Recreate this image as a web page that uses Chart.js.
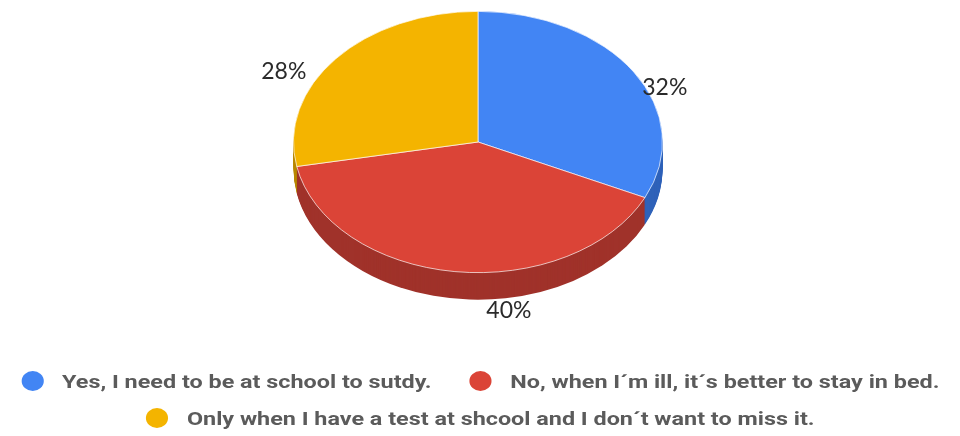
<!DOCTYPE html>
<html>
<head>
<meta charset="utf-8">
<script src="https://cdn.jsdelivr.net/npm/chart.js@4"></script>
<style>
  html, body { margin: 0; padding: 0; background: #fff; }
  #wrap { position: relative; width: 960px; height: 436px; }
  #pie { position: absolute; left: 0; top: 0; }
  #legend {
    position: absolute; left: 0; top: 370px; width: 960px;
    display: flex; flex-wrap: wrap; justify-content: center;
    row-gap: 15px; column-gap: 31px;
    font-family: Roboto, sans-serif; font-weight: 700; font-size: 19px; color: #5b5b5b;
    transform: scaleX(1.23); transform-origin: 478px 0;
  }
  .item { display: flex; align-items: center; height: 22px; white-space: nowrap; }
  .dot { width: 18px; height: 20px; border-radius: 50%; margin-right: 15px; }
</style>
</head>
<body>
<div id="wrap">
  <canvas id="pie" width="960" height="436"></canvas>
  <div id="legend"></div>
</div>
<script>
// answers and their share of the votes (%)
const answers = [
  'Yes, I need to be at school to sutdy.',
  'No, when I´m ill, it´s better to stay in bed.',
  'Only when I have a test at shcool and I don´t want to miss it.'
];
const shares = [32, 40, 28];

const topColors = ['#4285f4', '#db4437', '#f4b400'];
const sideColors = ['#2f62b9', '#a0322a', '#b88800'];

// squash the flat pie into a tilted disc and give it some thickness
const tilt3d = {
  id: 'tilt3d',
  beforeDatasetsDraw(chart, args, opts) {
    const ctx = chart.ctx;
    const arcs = chart.getDatasetMeta(0).data;
    const cy = arcs[0].y;
    for (let d = opts.depth; d > 0; d--) {
      ctx.save();
      ctx.translate(0, opts.centerY + d);
      ctx.scale(1, opts.squash);
      ctx.translate(0, -cy);
      arcs.forEach((arc, i) => {
        ctx.beginPath();
        ctx.moveTo(arc.x, arc.y);
        ctx.arc(arc.x, arc.y, arc.outerRadius, arc.startAngle, arc.endAngle);
        ctx.closePath();
        ctx.fillStyle = sideColors[i];
        ctx.fill();
      });
      ctx.restore();
    }
    ctx.save();
    ctx.translate(0, opts.centerY);
    ctx.scale(1, opts.squash);
    ctx.translate(0, -cy);
  },
  afterDatasetsDraw(chart, args, opts) {
    const ctx = chart.ctx;
    ctx.restore();
    // percentage labels just outside the rim
    const arcs = chart.getDatasetMeta(0).data;
    ctx.save();
    ctx.font = '23px Lato, sans-serif';
    ctx.fillStyle = '#2a2a2a';
    ctx.textAlign = 'center';
    ctx.textBaseline = 'middle';
    arcs.forEach((arc, i) => {
      const mid = (arc.startAngle + arc.endAngle) / 2;
      const rx = arc.x + Math.cos(mid) * arc.outerRadius;
      const ry = opts.centerY + Math.sin(mid) * arc.outerRadius * opts.squash;
      const n = opts.labelNudge[i];
      ctx.fillText(shares[i] + '%', rx + n[0], ry + n[1]);
    });
    ctx.restore();
  }
};

const chart = new Chart(document.getElementById('pie'), {
  type: 'pie',
  data: {
    labels: answers,
    datasets: [{
      data: shares,
      backgroundColor: topColors,
      borderColor: 'rgba(255,255,255,0.8)',
      borderWidth: 1
    }]
  },
  options: {
    responsive: false,
    animation: false,
    layout: { padding: { left: 0, right: 4, top: 0, bottom: 66 } },
    plugins: {
      legend: { display: false },
      tooltip: { enabled: false },
      tilt3d: {
        centerY: 142,
        squash: 0.708,
        depth: 27,
        labelNudge: [[31, 16], [54, 39], [-52, 13]]
      }
    }
  },
  plugins: [tilt3d]
});

// legend under the pie
const legend = document.getElementById('legend');
answers.forEach((text, i) => {
  const item = document.createElement('div');
  item.className = 'item';
  const dot = document.createElement('span');
  dot.className = 'dot';
  dot.style.background = topColors[i];
  const label = document.createElement('span');
  label.textContent = text;
  item.appendChild(dot);
  item.appendChild(label);
  legend.appendChild(item);
});
</script>
</body>
</html>
